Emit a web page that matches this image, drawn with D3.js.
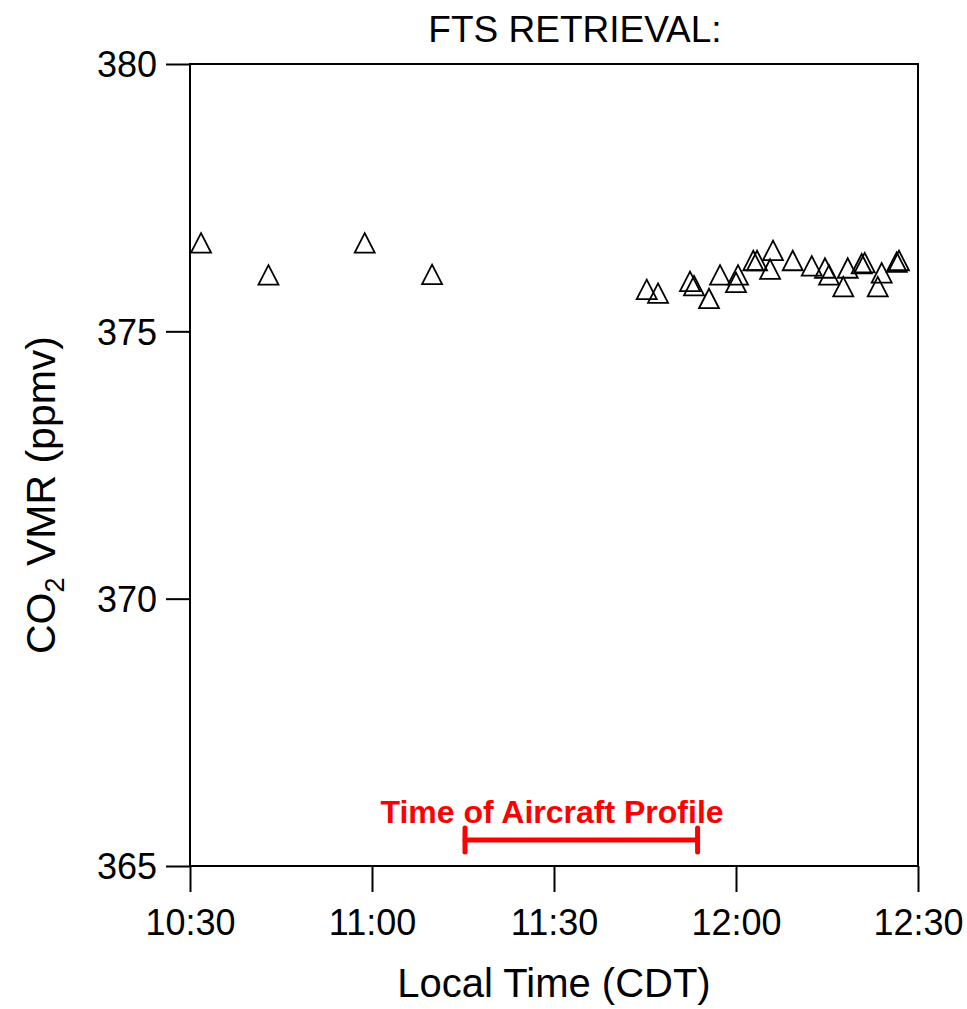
<html>
  <head>
    <script src="https://cdn.jsdelivr.net/npm/d3@7/dist/d3.min.js"></script>
    <style>
      * {
        margin: 0;
        padding: 0;
      }
      body {
        background-color: white;
        font-family: "Liberation Sans", Arial, sans-serif;
      }
      .tick text {
        font-family: "Liberation Sans", Arial, sans-serif;
      }
    </style>
  </head>
  <body>
    <div id="container"></div>
    <script>
      // measurement times (CDT) and retrieved CO2 VMR (ppmv)
      const times = [
        "10:31:49", "10:42:56", "10:58:48", "11:09:54",
        "11:45:17", "11:47:09", "11:52:25", "11:53:05", "11:55:33",
        "11:57:22", "12:00:00", "12:00:20", "12:02:51", "12:03:28",
        "12:05:37", "12:06:06", "12:09:21", "12:12:29", "12:14:40",
        "12:15:20", "12:17:41", "12:18:25", "12:20:43", "12:21:13",
        "12:23:22", "12:24:01", "12:26:29", "12:26:52"
      ];
      const co2 = [
        376.65, 376.05, 376.65, 376.06,
        375.78, 375.71, 375.93, 375.85, 375.61,
        376.05, 375.91, 376.05, 376.32, 376.32,
        376.16, 376.51, 376.32, 376.22, 376.18,
        376.05, 375.83, 376.18, 376.26, 376.28,
        375.83, 376.09, 376.29, 376.32
      ];
      const xTicks = ["10:30", "11:00", "11:30", "12:00", "12:30"];
      const yTicks = [365, 370, 375, 380];
      const profileWindow = ["11:15:20", "11:53:40"];

      const w = 967;
      const h = 1009;
      const padL = 190, padR = 918, padT = 64, padB = 866;

      const parseT = d3.timeParse("%H:%M:%S");
      const parseTick = d3.timeParse("%H:%M");

      const xScale = d3
        .scaleTime()
        .domain([parseTick(xTicks[0]), parseTick(xTicks[xTicks.length - 1])])
        .range([padL, padR]);

      const yScale = d3
        .scaleLinear()
        .domain([365, 380])
        .range([padB, padT]);

      const svg = d3
        .select("#container")
        .append("svg")
        .attr("width", w)
        .attr("height", h);

      // x axis
      const xAxis = d3
        .axisBottom(xScale)
        .tickValues(xTicks.map(parseTick))
        .tickFormat(d3.timeFormat("%H:%M"))
        .tickSize(26)
        .tickPadding(17);

      svg
        .append("g")
        .attr("transform", "translate(0," + padB + ")")
        .call(xAxis)
        .call((g) => g.select(".domain").remove())
        .call((g) => g.selectAll("line").attr("stroke", "black").attr("stroke-width", 2))
        .call((g) =>
          g.selectAll("text").attr("font-size", 36).attr("fill", "black")
        );

      // y axis
      const yAxis = d3.axisLeft(yScale).tickValues(yTicks).tickSize(24).tickPadding(9);

      svg
        .append("g")
        .attr("transform", "translate(" + padL + ",0)")
        .call(yAxis)
        .call((g) => g.select(".domain").remove())
        .call((g) => g.selectAll("line").attr("stroke", "black").attr("stroke-width", 2))
        .call((g) =>
          g.selectAll("text").attr("font-size", 36).attr("fill", "black").attr("dy", "0.36em")
        );

      // plot frame
      svg
        .append("rect")
        .attr("x", padL)
        .attr("y", padT)
        .attr("width", padR - padL)
        .attr("height", padB - padT)
        .attr("fill", "none")
        .attr("stroke", "black")
        .attr("stroke-width", 2);

      // title
      svg
        .append("text")
        .attr("x", 575)
        .attr("y", 42)
        .attr("text-anchor", "middle")
        .attr("font-size", 37)
        .text("FTS RETRIEVAL:");

      // axis titles
      svg
        .append("text")
        .attr("x", (padL + padR) / 2)
        .attr("y", 997)
        .attr("text-anchor", "middle")
        .attr("font-size", 40)
        .text("Local Time (CDT)");

      const yTitle = svg
        .append("text")
        .attr("transform", "translate(55,495) rotate(-90)")
        .attr("text-anchor", "middle")
        .attr("font-size", 41);
      yTitle.append("tspan").text("CO");
      yTitle
        .append("tspan")
        .attr("font-size", 27)
        .attr("dy", 9)
        .text("2");
      yTitle.append("tspan").attr("dy", -9).text(" VMR (ppmv)");

      // aircraft profile window
      const x0 = xScale(parseT(profileWindow[0]));
      const x1 = xScale(parseT(profileWindow[1]));
      const barY = yScale(365) - 26;
      const red = "#ff0000";
      const ann = svg.append("g").attr("stroke", red).attr("stroke-width", 5).attr("stroke-linecap", "round");
      ann.append("line").attr("x1", x0).attr("x2", x1).attr("y1", barY).attr("y2", barY);
      ann.append("line").attr("x1", x0).attr("x2", x0).attr("y1", barY - 12).attr("y2", barY + 12);
      ann.append("line").attr("x1", x1).attr("x2", x1).attr("y1", barY - 12).attr("y2", barY + 12);
      svg
        .append("text")
        .attr("x", 552)
        .attr("y", 823)
        .attr("text-anchor", "middle")
        .attr("font-size", 32)
        .attr("font-weight", "bold")
        .attr("fill", red)
        .text("Time of Aircraft Profile");

      // triangles
      const tri = "M0,-10L10,9.5L-10,9.5Z";
      svg
        .selectAll("path.pt")
        .data(times.map((t, i) => [parseT(t), co2[i]]))
        .enter()
        .append("path")
        .attr("class", "pt")
        .attr("d", tri)
        .attr("transform", (d) => "translate(" + xScale(d[0]) + "," + yScale(d[1]) + ")")
        .attr("fill", "none")
        .attr("stroke", "black")
        .attr("stroke-width", 1.8);
    </script>
  </body>
</html>
